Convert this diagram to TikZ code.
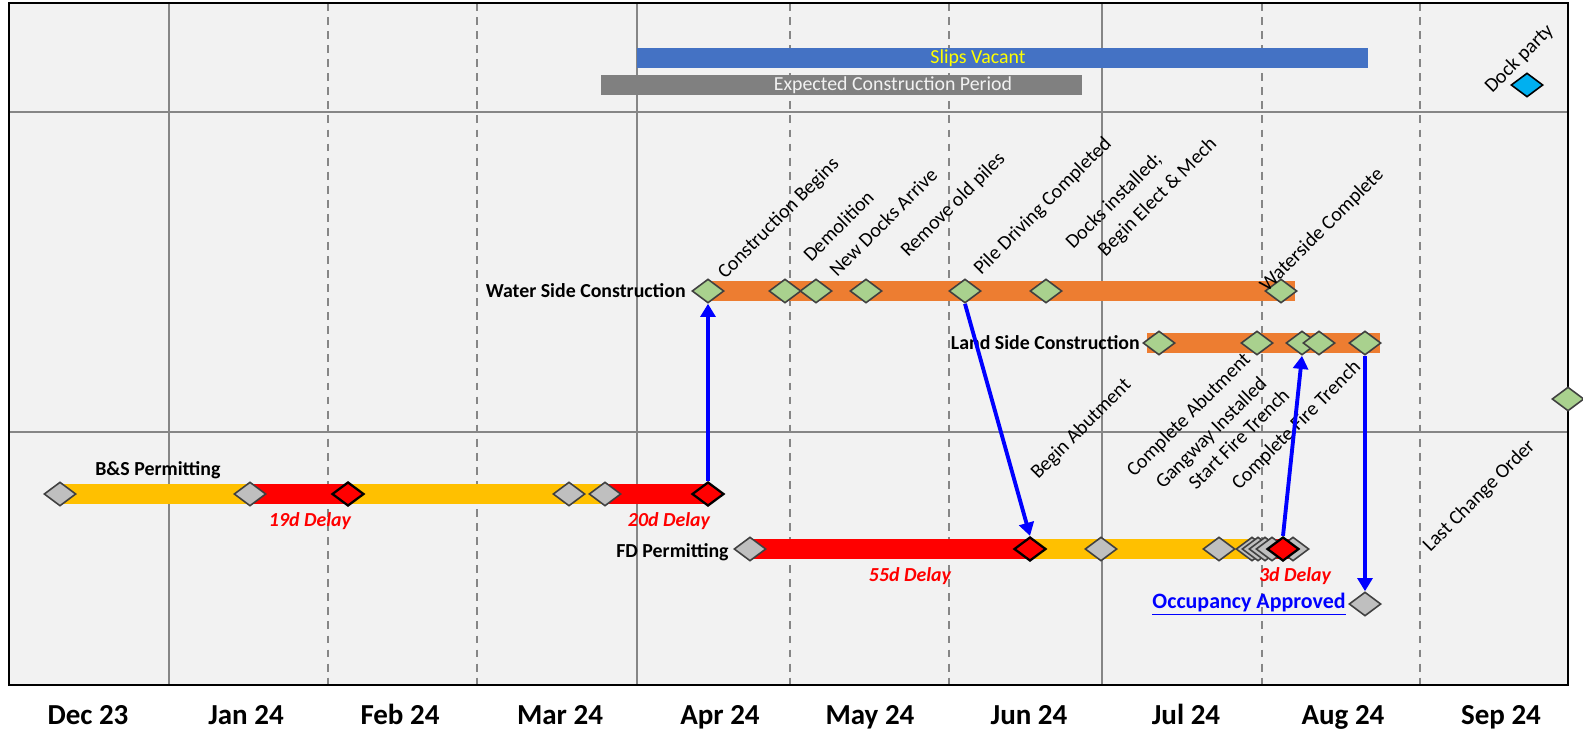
\documentclass[tikz,border=0pt]{standalone}
\usepackage{fontspec}
\setmainfont{Carlito}
\usepackage{tikz}
\usetikzlibrary{shapes.geometric,arrows.meta}

\definecolor{chartbg}{RGB}{242,242,242}
\definecolor{gridgray}{RGB}{134,134,134}
\definecolor{barorange}{RGB}{237,125,49}
\definecolor{baryellow}{RGB}{255,192,0}
\definecolor{barblue}{RGB}{68,114,196}
\definecolor{bargray}{RGB}{128,128,128}
\definecolor{msgreen}{RGB}{169,209,142}
\definecolor{msgray}{RGB}{191,191,191}
\definecolor{mscyan}{RGB}{0,176,240}
\definecolor{txtyellow}{RGB}{255,255,0}

\pgfdeclarelayer{grid}
\pgfdeclarelayer{bars}
\pgfsetlayers{grid,bars,main}

\begin{document}
\begin{tikzpicture}[x=0.02cm,y=-0.02cm,
  font=\fontsize{11.3}{13.5}\selectfont,
  ms/.style={shape=diamond,draw=black!75,line width=0.9pt,minimum width=0.64cm,minimum height=0.48cm,inner sep=0pt},
  grn/.style={ms,fill=msgreen},
  gry/.style={ms,fill=msgray},
  redms/.style={ms,fill=red,draw=black,line width=1.3pt},
  bar/.style={line width=0.4cm},
  lbl/.style={rotate=45,anchor=base west,inner sep=0pt,font=\fontsize{11.4}{16}\selectfont},
  rowlbl/.style={font=\fontsize{11.3}{13.5}\selectfont\bfseries,inner sep=0pt},
  delay/.style={text=red,font=\fontsize{11.3}{13.5}\selectfont\bfseries\itshape},
  month/.style={font=\fontsize{16.5}{19}\selectfont\bfseries,inner sep=0pt,anchor=base},
  arr/.style={blue,line width=2.2pt,-{Triangle[length=7.5pt,width=8.5pt]}}]

\useasboundingbox (0,0) rectangle (1583,731);

\begin{pgfonlayer}{grid}
 \fill[chartbg] (9,3) rectangle (1568,685);
 \foreach \x in {169,637,1102}
   \draw[gridgray,line width=1.1pt] (\x,3) -- (\x,685);
 \foreach \x in {328,477,790,949,1262,1420}
   \draw[gridgray,line width=1.1pt,dash pattern=on 4.5pt off 3.5pt] (\x,3) -- (\x,685);
 \foreach \y in {112,432}
   \draw[gridgray,line width=1.1pt] (9,\y) -- (1568,\y);
 \draw[black,line width=1.6pt] (9,3) rectangle (1568,685);
\end{pgfonlayer}

% months
\foreach \m/\x [count=\i] in {Dec 23/88,Jan 24/246,Feb 24/400,Mar 24/560,Apr 24/720,May 24/870,Jun 24/1029,Jul 24/1186,Aug 24/1343,Sep 24/1501}
  \draw (\x,724) node[month] (month\i) {\m};

% top band
\coordinate (slipsL) at (637,58);
\coordinate (slipsR) at (1368,58);
\coordinate (expL) at (601,85);
\coordinate (expR) at (1082,85);
\draw (978,58) node[text=txtyellow] (slips) {Slips Vacant};
\draw (893,85) node[text=chartbg] (expected) {Expected Construction Period};
\draw (1527,85) node[ms,fill=mscyan,draw=black] (party) {};
\draw (1492,94) node[lbl] (partylbl) {Dock party};

% water side
\draw (686,291) node[rowlbl,anchor=east] (wslbl) {Water Side Construction};
\draw (708,291) node[grn] (ws1) {};
\draw (785,291) node[grn] (ws2) {};
\draw (816,291) node[grn] (ws3) {};
\draw (866,291) node[grn] (ws4) {};
\draw (965,291) node[grn] (ws5) {};
\draw (1046,291) node[grn] (ws6) {};
\draw (1281,291) node[grn] (ws7) {};
\coordinate (wsend) at (1295,291);

\draw (725,280) node[lbl] (lbl1) {Construction Begins};
\draw (811,263) node[lbl] (lbl2) {Demolition};
\draw (837,278) node[lbl] (lbl3) {New Docks Arrive};
\draw (908,258) node[lbl] (lbl4) {Remove old piles};
\draw (981,276) node[lbl] (lbl5) {Pile Driving Completed};
\draw (1093,270) node[lbl,align=left] (lbl6) {Docks installed;\\\hspace*{10pt}Begin Elect \& Mech};
\draw (1267,293) node[lbl] (lbl7) {Waterside Complete};

% land side
\draw (1140,343) node[rowlbl,anchor=east] (lslbl) {Land Side Construction};
\coordinate (lsstart) at (1147,343);
\coordinate (lsend) at (1380,343);
\draw (1159,343) node[grn] (ls1) {};
\draw (1257,343) node[grn] (ls2) {};
\draw (1302,343) node[grn] (ls3) {};
\draw (1319,343) node[grn] (ls4) {};
\draw (1365,343) node[grn] (ls5) {};
\draw (1568,399) node[grn] (edge) {};

\draw (1038,480) node[lbl] (lbl8) {Begin Abutment};
\draw (1134,478) node[lbl] (lbl9) {Complete Abutment};
\draw (1163,490) node[lbl] (lbl10) {Gangway Installed};
\draw (1196,491) node[lbl] (lbl11) {Start Fire Trench};
\draw (1239,491) node[lbl] (lbl12) {Complete Fire Trench};
\draw (1430,553) node[lbl] (lbl13) {Last Change Order};

% B&S permitting
\draw (95,470) node[rowlbl,anchor=west] (bslbl) {B\&S Permitting};
\draw (60,494) node[gry] (bs1) {};
\draw (250,494) node[gry] (bs2) {};
\draw (348,494) node[redms] (bs3) {};
\draw (569,494) node[gry] (bs4) {};
\draw (605,494) node[gry] (bs5) {};
\draw (708,494) node[redms] (bs6) {};
\draw (310,521) node[delay] (delay1) {19d Delay};
\draw (669,521) node[delay] (delay2) {20d Delay};

% FD permitting
\draw (729,552) node[rowlbl,anchor=east] (fdlbl) {FD Permitting};
\draw (750,549) node[gry] (fd1) {};
\draw (1030,549) node[redms] (fd2) {};
\draw (1101,549) node[gry] (fd3) {};
\draw (1219,549) node[gry] (fd4) {};
\coordinate (fdmid) at (1262,549);
\coordinate (fdend) at (1292,549);
\foreach \x [count=\i] in {1252,1258,1265,1272,1293}
  \draw (\x,549) node[gry] (fdc\i) {};
\draw (1283,549) node[redms] (fd5) {};
\draw (910,576) node[delay] (delay3) {55d Delay};
\draw (1295,576) node[delay] (delay4) {3d Delay};

\draw (1365,604) node[gry] (occ) {};
\draw (1346,604) node[rowlbl,anchor=east,text=blue,font=\fontsize{12.5}{15}\selectfont\bfseries] (occlbl) {\underline{Occupancy Approved}};

% bars
\begin{pgfonlayer}{bars}
 \draw[bar,barblue] (slipsL) -- (slipsR);
 \draw[bar,bargray] (expL) -- (expR);
 \draw[bar,barorange] (ws1.center) -- (wsend);
 \draw[bar,barorange] (lsstart) -- (lsend);
 \draw[bar,baryellow] (bs1.center) -- (bs2.center);
 \draw[bar,red] (bs2.center) -- (bs3.center);
 \draw[bar,baryellow] (bs3.center) -- (bs5.center);
 \draw[bar,red] (bs5.center) -- (bs6.center);
 \draw[bar,red] (fd1.center) -- (fd2.center);
 \draw[bar,baryellow] (fd2.center) -- (fdmid);
 \draw[bar,red] (fdmid) -- (fdend);
\end{pgfonlayer}

% links
\draw[arr] (bs6.north) -- (ws1.south);
\draw[arr] (ws5.south) -- (fd2.north);
\draw[arr] (fd5.north) -- (ls3.south);
\draw[arr] (ls5.south) -- (occ.north);

\end{tikzpicture}
\end{document}
